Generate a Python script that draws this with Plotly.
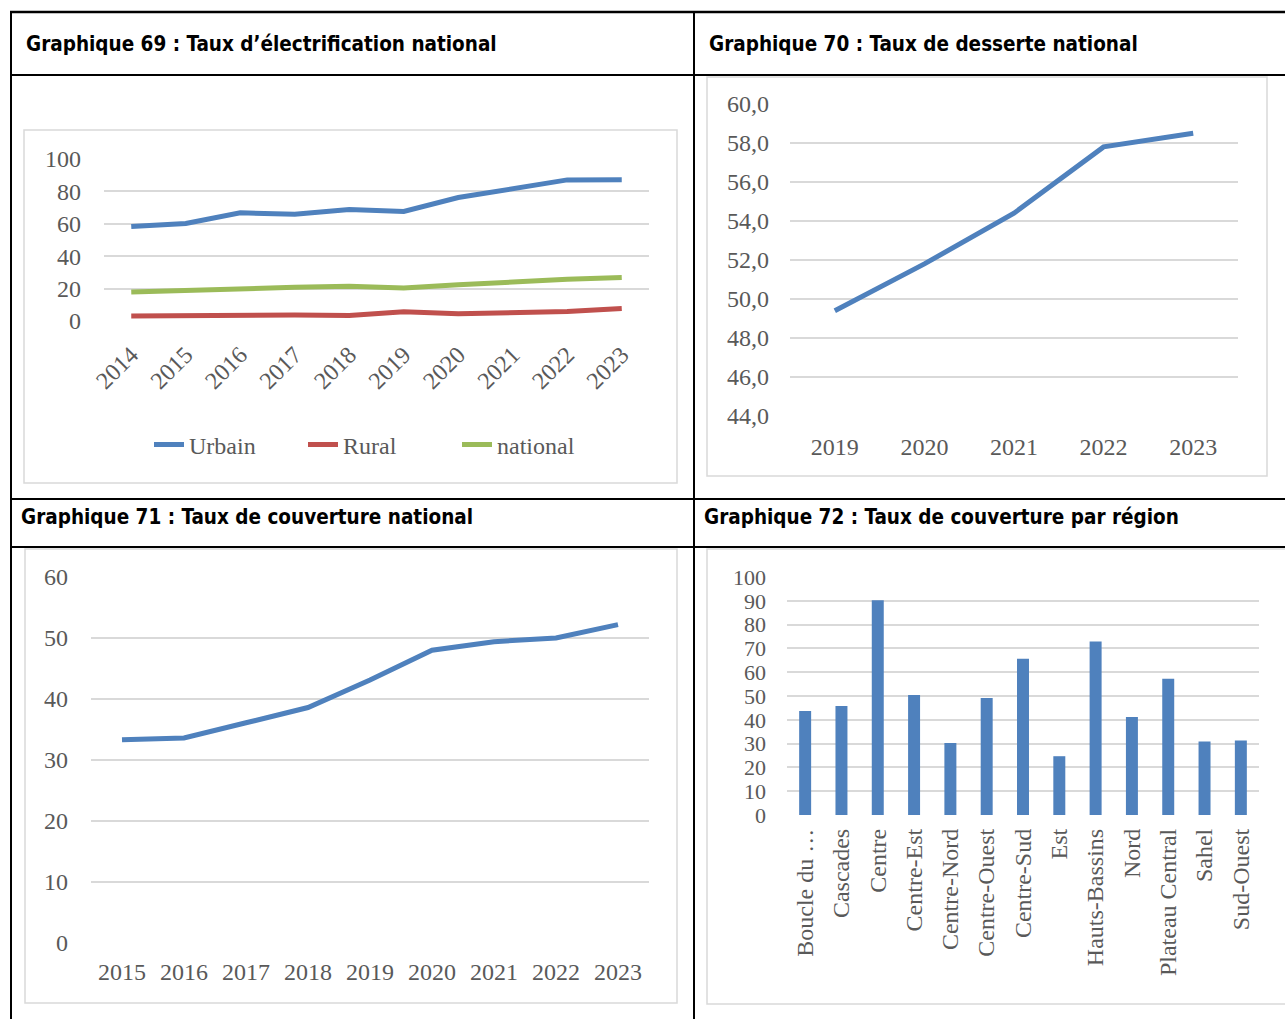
import plotly.graph_objects as go

W, H = 1285, 1019

# ---------------- data ----------------
years_69 = ["2014", "2015", "2016", "2017", "2018", "2019", "2020", "2021", "2022", "2023"]
urbain = [58.3, 60.2, 66.8, 65.9, 68.8, 67.6, 76.2, 81.9, 87.1, 87.2]
rural = [3.1, 3.4, 3.7, 3.7, 3.4, 5.7, 4.4, 5.1, 5.9, 7.7]
national_69 = [17.9, 19.0, 20.4, 20.8, 21.5, 20.4, 22.3, 24.1, 25.8, 26.9]

years_70 = ["2019", "2020", "2021", "2022", "2023"]
desserte = [49.4, 51.8, 54.4, 57.8, 58.5]

years_71 = ["2015", "2016", "2017", "2018", "2019", "2020", "2021", "2022", "2023"]
couverture = [33.3, 33.6, 36.1, 38.6, 43.1, 48.0, 49.4, 50.0, 52.2]

regions = ["Boucle du Mouhoun", "Cascades", "Centre", "Centre-Est", "Centre-Nord", "Centre-Ouest",
           "Centre-Sud", "Est", "Hauts-Bassins", "Nord", "Plateau Central", "Sahel", "Sud-Ouest"]
region_labels = ["Boucle du …", "Cascades", "Centre", "Centre-Est", "Centre-Nord", "Centre-Ouest",
                 "Centre-Sud", "Est", "Hauts-Bassins", "Nord", "Plateau Central", "Sahel", "Sud-Ouest"]
couverture_region = [43.7, 45.8, 90.2, 50.4, 30.2, 49.2, 65.6, 24.7, 72.9, 41.2, 57.3, 30.9, 31.3]

titles = [
    "Graphique 69 : Taux d’électrification national",
    "Graphique 70 : Taux de desserte national",
    "Graphique 71 : Taux de couverture national",
    "Graphique 72 : Taux de couverture par région",
]

# ---------------- style ----------------
BLUE, RED, GREEN = "#4F81BD", "#C0504D", "#9BBB59"
GRID = "#D9D9D9"
TXT = "#595959"
SERIF = "Liberation Serif, Times New Roman, serif"
NARROW = "DejaVu Sans Condensed, DejaVu Sans, sans-serif"
TICKFONT = dict(family=SERIF, size=24, color=TXT)


def px_x(p):
    return p / W


def px_y(p):
    return 1 - p / H


fig = go.Figure()

# Panel 69
for name, vals, col in [("Urbain", urbain, BLUE), ("Rural", rural, RED), ("national", national_69, GREEN)]:
    fig.add_trace(go.Scatter(x=years_69, y=vals, name=name, mode="lines",
                             line=dict(color=col, width=5), xaxis="x", yaxis="y"))

# Panel 70
fig.add_trace(go.Scatter(x=years_70, y=desserte, mode="lines", showlegend=False,
                         line=dict(color=BLUE, width=5), xaxis="x2", yaxis="y2"))
# Panel 71
fig.add_trace(go.Scatter(x=years_71, y=couverture, mode="lines", showlegend=False,
                         line=dict(color=BLUE, width=5), xaxis="x3", yaxis="y3"))
# Panel 72
fig.add_trace(go.Bar(x=regions, y=couverture_region, showlegend=False, width=0.33,
                     marker=dict(color=BLUE, line=dict(width=0)), xaxis="x4", yaxis="y4"))


def yax(domain, rng, dtick, **kw):
    d = dict(domain=domain, range=rng, dtick=dtick, tick0=rng[0], showgrid=True, gridcolor=GRID,
             gridwidth=1.5, zeroline=False, showline=False, tickfont=TICKFONT,
             ticks="", ticklabelstandoff=20, fixedrange=True, automargin=False)
    d.update(kw)
    return d


def xax(domain, anchor, n, **kw):
    d = dict(domain=domain, anchor=anchor, type="category", range=[-0.5, n - 0.5],
             showgrid=False, zeroline=False, showline=False, tickfont=TICKFONT,
             ticks="", fixedrange=True, automargin=False)
    d.update(kw)
    return d


fig.update_layout(
    width=W, height=H, autosize=False,
    margin=dict(l=0, r=0, t=0, b=0, pad=0, autoexpand=False),
    paper_bgcolor="white", plot_bgcolor="white",
    separators=", ",
    xaxis=xax([px_x(104), px_x(649)], "y", len(years_69), tickangle=-45, ticklabelstandoff=14),
    yaxis=yax([px_y(321), px_y(159)], [0, 100], 20, anchor="x", ticklabelstandoff=22),
    xaxis2=xax([px_x(790), px_x(1238)], "y2", len(years_70), ticklabelstandoff=14),
    yaxis2=yax([px_y(416), px_y(104)], [44, 60], 2, anchor="x2", tickformat=".1f"),
    xaxis3=xax([px_x(91), px_x(649)], "y3", len(years_71), ticklabelstandoff=12),
    yaxis3=yax([px_y(943), px_y(577)], [0, 60], 10, anchor="x3", ticklabelstandoff=22),
    xaxis4=xax([px_x(787), px_x(1259)], "y4", len(regions), tickangle=-90, ticklabelstandoff=8,
               tickmode="array", tickvals=regions, ticktext=region_labels),
    yaxis4=yax([px_y(815), px_y(577)], [0, 100], 10, anchor="x4",
               tickfont=dict(family=SERIF, size=22, color=TXT)),
    bargap=0.65,
    legend=dict(orientation="h", x=px_x(380), xanchor="center", y=px_y(445), yanchor="middle",
                font=dict(family=SERIF, size=24, color=TXT), itemwidth=30,
                entrywidth=109, entrywidthmode="pixels", bgcolor="rgba(0,0,0,0)"),
)

# ---------------- table frame & chart boxes ----------------
shapes = []


def line(x0, y0, x1, y1, color="black", width=2):
    shapes.append(dict(type="line", xref="paper", yref="paper",
                       x0=px_x(x0), y0=px_y(y0), x1=px_x(x1), y1=px_y(y1),
                       line=dict(color=color, width=width)))


def box(x0, y0, x1, y1):
    shapes.append(dict(type="rect", xref="paper", yref="paper",
                       x0=px_x(x0), y0=px_y(y0), x1=px_x(x1), y1=px_y(y1),
                       line=dict(color=GRID, width=1.5), fillcolor="rgba(0,0,0,0)", layer="below"))


box(24, 130, 677, 483)
box(707, 77, 1267, 476)
box(25, 549, 677, 1003)
box(707, 549, 1300, 1004)

line(10, 12, W, 12, width=2.5)
line(10, 75, W, 75)
line(10, 499, W, 499)
line(10, 547, W, 547)
line(11, 11, 11, H)
line(694, 11, 694, H)

fig.update_layout(shapes=shapes)

# ---------------- titles ----------------
title_pos = [(24, 44), (707, 44), (19, 517), (702, 517)]
for t, (x, y) in zip(titles, title_pos):
    fig.add_annotation(text=t, xref="paper", yref="paper", x=px_x(x), y=px_y(y),
                       xanchor="left", yanchor="middle", showarrow=False,
                       font=dict(family=NARROW, size=20.5, color="black", weight="bold"))

post = ("document.body.style.margin='0';document.body.style.padding='0';"
        "document.body.style.overflow='hidden';document.documentElement.style.overflow='hidden';")
fig.write_html("out.html", post_script=post, config={"displayModeBar": False})
